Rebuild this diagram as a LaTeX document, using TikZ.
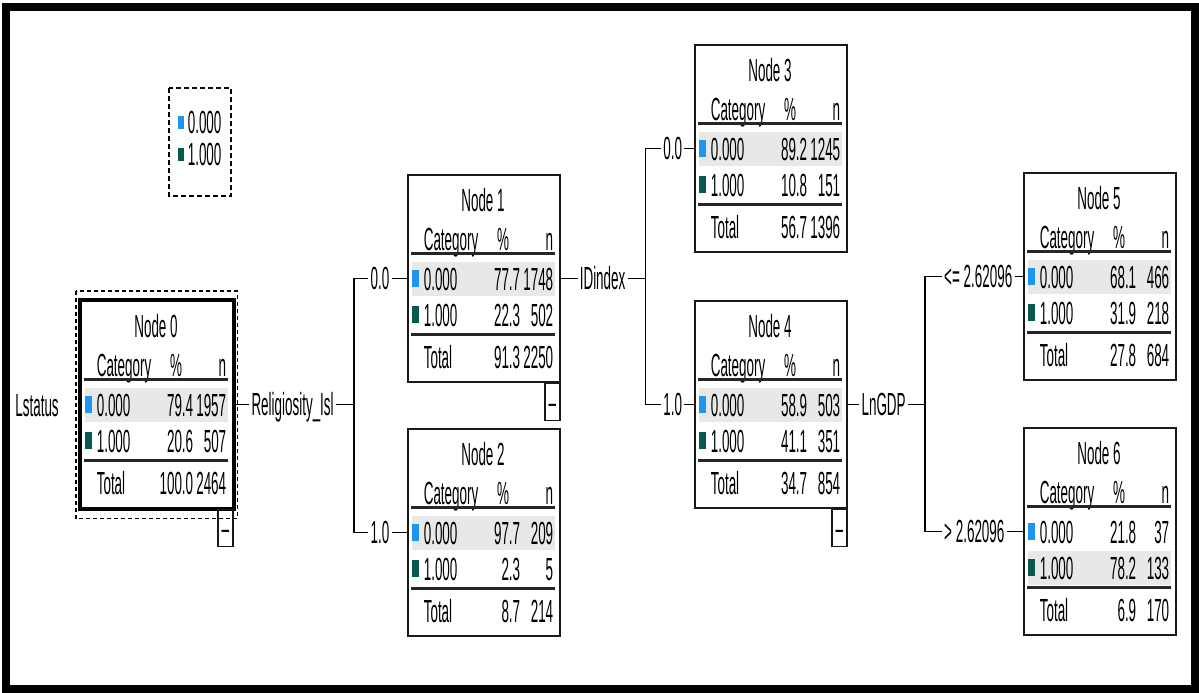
\documentclass[tikz,border=0pt]{standalone}
\usepackage{fontspec}
\setmainfont{Liberation Sans}[FakeStretch=0.42]
\usetikzlibrary{calc}
\definecolor{cat0}{HTML}{1E96F0}
\definecolor{cat1}{HTML}{07594F}
\definecolor{hilite}{HTML}{E8E8E8}

\begin{document}
\begin{tikzpicture}[
  x=1pt, y=-1pt, line width=1.6pt,
  every node/.style={font=\fontsize{32}{32}\selectfont, inner sep=0pt,
    text height=23pt, text depth=0pt},
  tbox/.style={draw=black!90, minimum width=152pt, minimum height=207pt, anchor=north west},
  rule/.style={line width=3pt, draw=black!85},
  lab/.style={inner sep=1.5pt},
  minusbox/.style={draw=black!90, anchor=north east, minimum width=15pt, minimum height=37pt},
]
  \useasboundingbox (0,0) rectangle (1199,693);
  % Frame round the whole output.
  \draw[line width=8pt] (6,7) rectangle (1195,689);

  % Legend.
  \draw[dashed, dash pattern=on 5pt off 3pt, line width=1.3pt] (169,88) rectangle (231,196);
  \fill[cat0] (178,116) rectangle ++(6,13);
  \fill[cat1] (178,148) rectangle ++(6,13);
  \node[anchor=west] (key0) at (187,122) {0.000};
  \node[anchor=west] (key1) at (187,154) {1.000};

  % Tree nodes: name / left / top / % and n of 0.000 / of 1.000 / of Total / highlighted row.
  \foreach \nm/\bx/\by/\pa/\na/\pb/\nb/\pt/\nt/\hl in {
      0/80/300/79.4/1957/20.6/507/100.0/2464/1,
      1/407/174/77.7/1748/22.3/502/91.3/2250/1,
      2/407/428/97.7/209/2.3/5/8.7/214/1,
      3/694/44/89.2/1245/10.8/151/56.7/1396/1,
      4/694/300/58.9/503/41.1/351/34.7/854/1,
      5/1023/172/68.1/466/31.9/218/27.8/684/1,
      6/1023/427/21.8/37/78.2/133/6.9/170/2} {
    \fill[hilite] (\bx+5,\by+88+\hl*36-36) rectangle ++(143,34);
    \node[tbox] (n\nm) at (\bx,\by) {};
    \node (n\nm-title) at (\bx+76,\by+26) {Node \nm};
    \node[anchor=west] (n\nm-cat) at (\bx+16,\by+65) {Category};
    \node (n\nm-pc) at (\bx+96,\by+65) {\%};
    \node[anchor=east] (n\nm-n) at (\bx+147,\by+65) {n};
    \draw[rule] (\bx+4,\by+79) -- (\bx+148,\by+79);
    \fill[cat0] (\bx+5,\by+96) rectangle ++(7,17);
    \fill[cat1] (\bx+5,\by+132) rectangle ++(7,17);
    \node[anchor=west] (n\nm-a) at (\bx+16,\by+105) {0.000};
    \node[anchor=east] (n\nm-apc) at (\bx+114,\by+105) {\pa};
    \node[anchor=east] (n\nm-an) at (\bx+147,\by+105) {\na};
    \node[anchor=west] (n\nm-b) at (\bx+16,\by+141) {1.000};
    \node[anchor=east] (n\nm-bpc) at (\bx+114,\by+141) {\pb};
    \node[anchor=east] (n\nm-bn) at (\bx+147,\by+141) {\nb};
    \draw[rule] (\bx+4,\by+160) -- (\bx+148,\by+160);
    \node[anchor=west] (n\nm-tot) at (\bx+16,\by+183) {Total};
    \node[anchor=east] (n\nm-tpc) at (\bx+114,\by+183) {\pt};
    \node[anchor=east] (n\nm-tn) at (\bx+147,\by+183) {\nt};
  }

  % Node 0 is the selected one.
  \draw[line width=4pt] (n0.north west) rectangle (n0.south east);
  \draw[dashed, dash pattern=on 4pt off 3pt, line width=1.5pt]
    ($(n0.north west)+(-4,-9)$) rectangle ($(n0.south east)+(4,10)$);
  \foreach \nm in {0,1,4} \node[minusbox] (m\nm) at (n\nm.south east) {--};

  % Target, split variables and branch labels.
  \node[lab, anchor=east] (target) at (61,405) {Lstatus};
  \node[lab] (s0) at ($(n0.east)+(59,0)$) {Religiosity\_Isl};
  \node[lab] (s1) at ($(n1.east)+(42,0)$) {IDindex};
  \node[lab] (s4) at ($(n4.east)+(36,0)$) {LnGDP};
  \coordinate (j0) at ($(s0.east)+(18,0)$);
  \coordinate (j1) at ($(s1.east)+(18,0)$);
  \coordinate (j4) at ($(s4.east)+(17,0)$);
  \node[lab] (e1) at ($(n1.west -| j0)+(26,0)$) {0.0};
  \node[lab] (e2) at ($(n2.west -| j0)+(26,0)$) {1.0};
  \node[lab] (e3) at ($(n3.west -| j1)+(27,0)$) {0.0};
  \node[lab] (e4) at ($(n4.west -| j1)+(27,0)$) {1.0};
  \node[lab, anchor=west] (e5) at ($(n5.west -| j4)+(17,0)$) {<= 2.62096};
  \node[lab, anchor=west] (e6) at ($(n6.west -| j4)+(17,0)$) {> 2.62096};

  % Connectors.
  \draw (n0.east) -- (s0);
  \draw (n1.east) -- (s1);
  \draw (n4.east) -- (s4);
  \draw (s0) -- (j0);
  \draw (s1) -- (j1);
  \draw (s4) -- (j4);
  \foreach \j/\e/\n in {j0/e1/n1, j0/e2/n2, j1/e3/n3, j1/e4/n4, j4/e5/n5, j4/e6/n6} {
    \draw (\j) |- (\e);
    \draw (\e) -- (\n.west);
  }
\end{tikzpicture}
\end{document}
